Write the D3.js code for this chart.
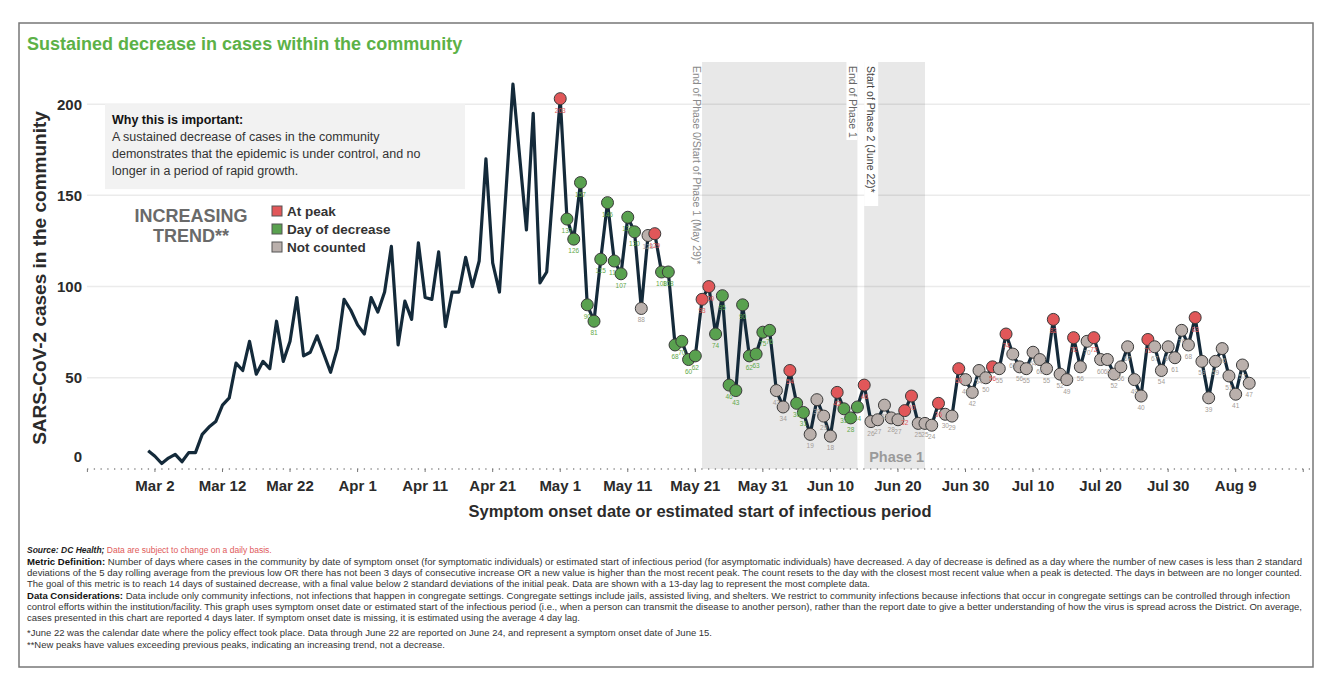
<!DOCTYPE html>
<html>
<head>
<meta charset="utf-8">
<script src="https://cdn.jsdelivr.net/npm/d3@7"></script>
<style>
body { margin: 0; background: #fff; }
svg { display: block; font-family: "Liberation Sans", Arial, sans-serif; }
</style>
</head>
<body>
<script>
// daily cases, starting Mar 1 2020
var firstDay = "2020-03-01";
var cases = [
  10, 7, 3, 6, 8, 4, 9, 9, 19, 23,
  26, 35, 39, 58, 54, 70, 52, 59, 55, 81,
  59, 70, 94, 62, 64, 73, 63, 53, 66, 93,
  87, 79, 74, 94, 86, 97, 122, 68, 92, 82,
  124, 94, 93, 119, 78, 97, 97, 116, 100, 114,
  170, 113, 97, 154, 211, 171, 131, 195, 102, 108,
  156, 203, 137, 126, 157, 90, 81, 115, 146, 114,
  107, 138, 130, 88, 128, 129, 108, 108, 68, 70,
  60, 62, 93, 100, 74, 95, 46, 43, 90, 62,
  63, 75, 76, 43, 34, 54, 36, 31, 19, 38,
  29, 18, 42, 33, 28, 34, 46, 26, 27, 35,
  28, 27, 32, 40, 25, 25, 24, 36, 30, 29,
  55, 49, 42, 54, 50, 56, 55, 74, 63, 56,
  55, 64, 60, 55, 82, 52, 49, 72, 56, 70,
  72, 60, 60, 52, 56, 67, 49, 40, 71, 67,
  54, 67, 61, 76, 68, 83, 59, 39, 59, 66,
  51, 41, 57, 47
];

// P = at peak, D = day of decrease, N = not counted (from May 1 on)
var markerFrom = 61;
var pointStatus = ("P" + "DDDDDDDDDDD" + "NN" + "P" + "DDDDDD" + "PP" + "DDDDDDDDD" +
  "NN" + "P" + "DD" + "NNNN" + "P" + "DDD" + "P" + "NNNNN" + "PP" + "NNN" + "P" +
  "NN" + "P" + "NNNN" + "P" + "N" + "P" + "NNNNNN" + "P" + "NN" + "P" + "NN" + "P" +
  "NNNNNNN" + "P" + "NNNNNN" + "P" + "NNNNNNNN").split("");

var tickDates = ["2020-02-21", "2020-03-02", "2020-03-12", "2020-03-22", "2020-04-01",
  "2020-04-11", "2020-04-21", "2020-05-01", "2020-05-11", "2020-05-21", "2020-05-31",
  "2020-06-10", "2020-06-20", "2020-06-30", "2020-07-10", "2020-07-20", "2020-07-30",
  "2020-08-09", "2020-08-19"];
var tickLabels = ["", "Mar 2", "Mar 12", "Mar 22", "Apr 1", "Apr 11", "Apr 21", "May 1",
  "May 11", "May 21", "May 31", "Jun 10", "Jun 20", "Jun 30", "Jul 10", "Jul 20",
  "Jul 30", "Aug 9", ""];
var yTicks = [0, 50, 100, 150, 200];
var bandStarts = ["2020-05-22", "2020-06-15"];
var bandEnds = ["2020-06-14", "2020-06-24"];
var legendKeys = ["P", "D", "N"];
var legendLabels = ["At peak", "Day of decrease", "Not counted"];

var fillColor = { P: "#e15759", D: "#59a14f", N: "#bab0ac" };
var labelColor = { P: "#e15759", D: "#5fa84a", N: "#a59d98" };

var W = 1332, H = 694;
var parse = d3.timeParse("%Y-%m-%d");
var start = parse(firstDay);

var svg = d3.select("body").append("svg")
  .attr("width", W)
  .attr("height", H);

// frame
svg.append("rect")
  .attr("x", 19).attr("y", 23)
  .attr("width", 1294).attr("height", 644)
  .attr("fill", "none")
  .attr("stroke", "#777")
  .attr("stroke-width", 1.5);

var x = d3.scaleTime()
  .domain([parse("2020-02-21"), parse("2020-08-20")])
  .range([87.4, 1310]);
var y = d3.scaleLinear()
  .domain([0, 222])
  .range([469, 64]);

// phase bands
var bandTop = 62;
bandStarts.forEach(function(s, i) {
  svg.append("rect")
    .attr("x", x(parse(s)))
    .attr("y", bandTop)
    .attr("width", x(parse(bandEnds[i])) - x(parse(s)))
    .attr("height", y(0) - bandTop)
    .attr("fill", "#e8e8e8");
});

// gridlines
svg.selectAll(".grid")
  .data(yTicks.filter(function(d) { return d > 0; }))
  .enter().append("line")
  .attr("x1", 87).attr("x2", 1310)
  .attr("y1", function(d) { return y(d); })
  .attr("y2", function(d) { return y(d); })
  .attr("stroke", "rgba(0,0,0,0.08)")
  .attr("stroke-width", 1.5);

// dotted zero axis + ticks
svg.append("line")
  .attr("x1", 87).attr("x2", 1310)
  .attr("y1", y(0)).attr("y2", y(0))
  .attr("stroke", "#8a8a8a")
  .attr("stroke-width", 1.3)
  .attr("stroke-dasharray", "1.3,5.45");
svg.selectAll(".tick")
  .data(tickDates)
  .enter().append("line")
  .attr("x1", function(d) { return x(parse(d)); })
  .attr("x2", function(d) { return x(parse(d)); })
  .attr("y1", y(0))
  .attr("y2", y(0) + 3)
  .attr("stroke", "#777")
  .attr("stroke-width", 1);

// x tick labels
svg.selectAll(".xlab")
  .data(tickDates)
  .enter().append("text")
  .attr("x", function(d) { return x(parse(d)); })
  .attr("y", 491)
  .attr("text-anchor", "middle")
  .attr("font-size", 15)
  .attr("font-weight", "bold")
  .attr("fill", "#2b2b2b")
  .text(function(d, i) { return tickLabels[i]; });

// y tick labels
svg.selectAll(".ylab")
  .data(yTicks)
  .enter().append("text")
  .attr("x", 82)
  .attr("y", function(d) { return d === 0 ? y(d) - 12 : y(d); })
  .attr("dy", "0.36em")
  .attr("text-anchor", "end")
  .attr("font-size", 15)
  .attr("font-weight", "bold")
  .attr("fill", "#2b2b2b")
  .text(function(d) { return d; });

// axis titles
svg.append("text")
  .attr("transform", "translate(46,278) rotate(-90)")
  .attr("text-anchor", "middle")
  .attr("font-size", 19)
  .attr("font-weight", "bold")
  .attr("fill", "#2b2b2b")
  .text("SARS-CoV-2 cases in the community");
svg.append("text")
  .attr("x", 700).attr("y", 517)
  .attr("text-anchor", "middle")
  .attr("font-size", 16.5)
  .attr("font-weight", "bold")
  .attr("fill", "#2b2b2b")
  .text("Symptom onset date or estimated start of infectious period");

// title
svg.append("text")
  .attr("x", 27).attr("y", 50)
  .attr("font-size", 18)
  .attr("font-weight", "bold")
  .attr("fill", "#5cb147")
  .text("Sustained decrease in cases within the community");

// phase annotations
var b1s = x(parse(bandStarts[0])), b1e = x(parse(bandEnds[0]));
var b2s = x(parse(bandStarts[1])), b2e = x(parse(bandEnds[1]));

svg.append("rect").attr("x", b1e - 11).attr("y", bandTop)
  .attr("width", 11).attr("height", 78).attr("fill", "#fff");
svg.append("rect").attr("x", b2s).attr("y", bandTop)
  .attr("width", 14).attr("height", 144).attr("fill", "#fff");

function vtext(x0, txt, col) {
  svg.append("text")
    .attr("transform", "translate(" + x0 + ",66) rotate(90)")
    .attr("font-size", 10.5)
    .attr("fill", col)
    .text(txt);
}
vtext(b1s - 9.5, "End of Phase 0/Start of Phase 1 (May 29)*", "#8a8a8a");
vtext(b1e - 8.5, "End of Phase 1", "#666");
vtext(b2s + 3, "Start of Phase 2 (June 22)*", "#444");

svg.append("text")
  .attr("x", b2e - 1).attr("y", 462)
  .attr("text-anchor", "end")
  .attr("font-size", 14.5)
  .attr("font-weight", "bold")
  .attr("fill", "#9a9a9a")
  .text("Phase 1");

// info box
svg.append("rect")
  .attr("x", 105).attr("y", y(200))
  .attr("width", 360).attr("height", 85)
  .attr("fill", "#f2f2f2");
var info = svg.append("text").attr("font-size", 12.5).attr("fill", "#333");
info.append("tspan").attr("x", 112).attr("y", 124).attr("font-weight", "bold").attr("fill", "#111")
  .text("Why this is important:");
["A sustained decrease of cases in the community",
 "demonstrates that the epidemic is under control, and no",
 "longer in a period of rapid growth."].forEach(function(t, i) {
  info.append("tspan").attr("x", 112).attr("y", 141 + i * 17).text(t);
});

// increasing trend
svg.append("text").attr("x", 191).attr("y", 222)
  .attr("text-anchor", "middle").attr("font-size", 18).attr("font-weight", "bold")
  .attr("fill", "#6a6a6a").text("INCREASING");
svg.append("text").attr("x", 191).attr("y", 242)
  .attr("text-anchor", "middle").attr("font-size", 18).attr("font-weight", "bold")
  .attr("fill", "#6a6a6a").text("TREND**");

// legend
var leg = svg.selectAll(".leg").data(legendKeys).enter().append("g")
  .attr("transform", function(d, i) { return "translate(272," + (206 + i * 18) + ")"; });
leg.append("rect").attr("width", 10).attr("height", 10)
  .attr("fill", function(d) { return fillColor[d]; })
  .attr("stroke", "#555").attr("stroke-width", 1);
leg.append("text").attr("x", 15).attr("y", 10)
  .attr("font-size", 13.5).attr("font-weight", "bold").attr("fill", "#333")
  .text(function(d, i) { return legendLabels[i]; });

// data
var pts = cases.map(function(v, i) {
  return {
    date: d3.timeDay.offset(start, i),
    value: v,
    status: i >= markerFrom ? pointStatus[i - markerFrom] : null
  };
});

var line = d3.line()
  .x(function(d) { return x(d.date); })
  .y(function(d) { return y(d.value); });

svg.append("path")
  .datum(pts)
  .attr("d", line)
  .attr("fill", "none")
  .attr("stroke", "#142a3a")
  .attr("stroke-width", 3.2)
  .attr("stroke-linejoin", "round");

var marked = pts.filter(function(d) { return d.status; });

svg.selectAll(".dot")
  .data(marked)
  .enter().append("circle")
  .attr("cx", function(d) { return x(d.date); })
  .attr("cy", function(d) { return y(d.value); })
  .attr("r", 6)
  .attr("fill", function(d) { return fillColor[d.status]; })
  .attr("stroke", "#3a3a3a")
  .attr("stroke-width", 1);

svg.selectAll(".val")
  .data(marked)
  .enter().append("text")
  .attr("x", function(d) { return x(d.date); })
  .attr("y", function(d) { return y(d.value) + 14; })
  .attr("text-anchor", "middle")
  .attr("font-size", 6.5)
  .attr("fill", function(d) { return labelColor[d.status]; })
  .text(function(d) { return d.value; });

// footer notes
var notes = [
  { y: 553, w: 0, parts: [["Source: DC Health; ", "bi", "#222"], ["Data are subject to change on a daily basis.", "", "#e05a5a"]] },
  { y: 564.5, w: 1275, parts: [["Metric Definition: ", "b", "#111"], ["Number of days where cases in the community by date of symptom onset (for symptomatic individuals) or estimated start of infectious period (for asymptomatic individuals) have decreased. A day of decrease is defined as a day where the number of new cases is less than 2 standard", "", "#333"]] },
  { y: 576, w: 1275, parts: [["deviations of the 5 day rolling average from the previous low OR there has not been 3 days of consecutive increase OR a new value is higher than the most recent peak. The count resets to the day with the closest most recent value when a peak is detected. The days in between are no longer counted.", "", "#333"]] },
  { y: 587, w: 843, parts: [["The goal of this metric is to reach 14 days of sustained decrease, with a final value below 2 standard deviations of the initial peak. Data are shown with a 13-day lag to represent the most complete data.", "", "#333"]] },
  { y: 598.5, w: 1263, parts: [["Data Considerations: ", "b", "#111"], ["Data include only community infections, not infections that happen in congregate settings. Congregate settings include jails, assisted living, and shelters. We restrict to community infections because infections that occur in congregate settings can be controlled through infection", "", "#333"]] },
  { y: 610, w: 1275, parts: [["control efforts within the institution/facility. This graph uses symptom onset date or estimated start of the infectious period (i.e., when a person can transmit the disease to another person), rather than the report date to give a better understanding of how the virus is spread across the District. On average,", "", "#333"]] },
  { y: 621, w: 553, parts: [["cases presented in this chart are reported 4 days later. If symptom onset date is missing, it is estimated using the average 4 day lag.", "", "#333"]] },
  { y: 636, w: 685, parts: [["*June 22 was the calendar date where the policy effect took place. Data through June 22 are reported on June 24, and represent a symptom onset date of June 15.", "", "#333"]] },
  { y: 648, w: 418, parts: [["**New peaks have values exceeding previous peaks, indicating an increasing trend, not a decrease.", "", "#333"]] }
];

notes.forEach(function(n) {
  var t = svg.append("text")
    .attr("x", 27).attr("y", n.y)
    .attr("font-size", 8.5);
  n.parts.forEach(function(p) {
    t.append("tspan")
      .attr("font-weight", p[1].indexOf("b") >= 0 ? "bold" : "normal")
      .attr("font-style", p[1].indexOf("i") >= 0 ? "italic" : "normal")
      .attr("fill", p[2])
      .text(p[0]);
  });
  if (n.w) {
    t.attr("textLength", n.w).attr("lengthAdjust", "spacingAndGlyphs");
  }
});
</script>
</body>
</html>
